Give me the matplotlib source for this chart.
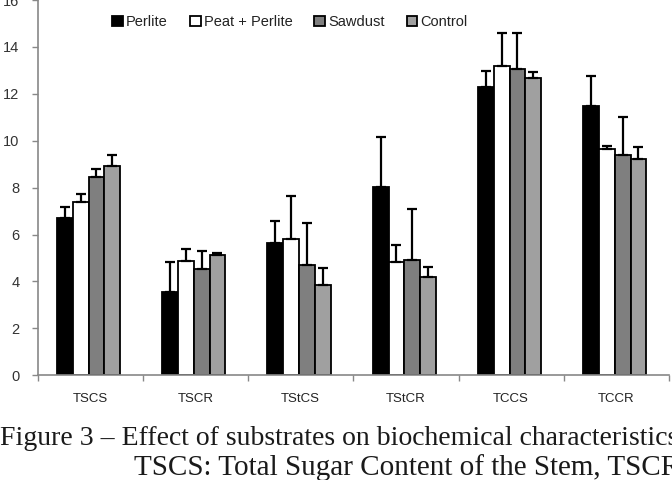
import numpy as np
import matplotlib
matplotlib.use("Agg")
import matplotlib.pyplot as plt

plt.rcParams["font.family"] = ["Liberation Sans", "DejaVu Sans"]

# data
categories = ["TSCS", "TSCR", "TStCS", "TStCR", "TCCS", "TCCR"]
series = ["Perlite", "Peat + Perlite", "Sawdust", "Control"]
perlite = [6.70, 3.54, 5.65, 8.04, 12.28, 11.50]
peat_perlite = [7.40, 4.87, 5.83, 4.84, 13.19, 9.64]
sawdust = [8.47, 4.52, 4.70, 4.92, 13.07, 9.39]
control = [8.93, 5.14, 3.84, 4.18, 12.67, 9.21]
perlite_err = [0.46, 1.30, 0.92, 2.13, 0.71, 1.26]
peat_perlite_err = [0.33, 0.51, 1.83, 0.72, 1.42, 0.15]
sawdust_err = [0.33, 0.79, 1.78, 2.17, 1.54, 1.64]
control_err = [0.47, 0.09, 0.72, 0.45, 0.28, 0.54]

values = [perlite, peat_perlite, sawdust, control]
errors = [perlite_err, peat_perlite_err, sawdust_err, control_err]
colors = ["#000000", "#ffffff", "#7f7f7f", "#a0a0a0"]

fig = plt.figure(figsize=(6.72, 4.8), dpi=100)
ax = fig.add_axes([37.5 / 672, (480 - 375.3) / 480, 631.5 / 672, 375.3 / 480])

x = np.arange(len(categories))
w = 0.15
for i, (vals, errs, col, name) in enumerate(zip(values, errors, colors, series)):
    pos = x + (i - 1.5) * w - 0.015
    ax.bar(pos, vals, width=w, color=col, edgecolor="black", linewidth=1.3,
           label=name, zorder=2)
    ax.errorbar(pos, vals, yerr=[np.zeros(len(errs)), errs], fmt="none",
                ecolor="black", elinewidth=1.6, capsize=3.5, capthick=1.6, zorder=3)

ax.set_xlim(-0.5, len(categories) - 0.5)
ax.set_ylim(0, 16)
ax.set_yticks(np.arange(0, 17, 2))
ax.set_xticks(x)
ax.set_xticklabels(categories, fontsize=9.5, color="#222222")
ax.set_xticks(np.arange(-0.5, len(categories), 1), minor=True)
ax.tick_params(axis="x", which="major", length=0, pad=13)
ax.tick_params(axis="x", which="minor", length=4, color="#888888", width=1)
ax.tick_params(axis="y", length=4, color="#888888", width=1, labelsize=10.5,
               labelcolor="#333333", pad=9)
for s in ["top", "right"]:
    ax.spines[s].set_visible(False)
for s in ["left", "bottom"]:
    ax.spines[s].set_color("#888888")
    ax.spines[s].set_linewidth(1.2)

leg = ax.legend(loc="center", bbox_to_anchor=((290 - 37.5) / 631.5, 1 - 22 / 375.3),
                ncol=4, frameon=False, fontsize=10.5, handlelength=0.75,
                handleheight=0.75, handletextpad=0.2, columnspacing=1.5)
for t in leg.get_texts():
    t.set_color("#222222")

# caption below the chart (cropped at the edges in the source)
fig.text(678 / 672, 1 - 445 / 480, "Figure 3 – Effect of substrates on biochemical characteristics",
         ha="right", va="baseline", fontsize=20, family="Liberation Serif", color="#1a1a1a")
fig.text(680 / 672, 1 - 475 / 480, "TSCS: Total Sugar Content of the Stem, TSCR",
         ha="right", va="baseline", fontsize=21, family="Liberation Serif", color="#1a1a1a")

fig.savefig("out.png", dpi=100)
